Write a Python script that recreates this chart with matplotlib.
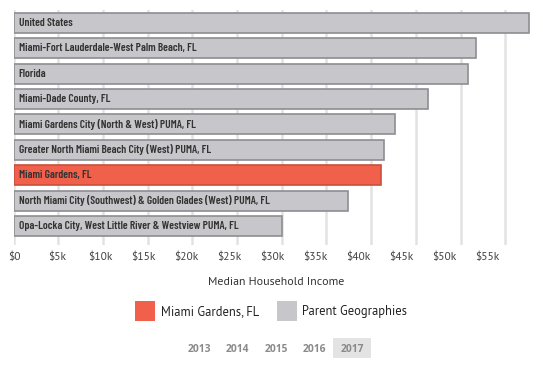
import matplotlib
matplotlib.use("Agg")
import matplotlib.pyplot as plt
from matplotlib.patches import Rectangle

# data
places = [
    "United States",
    "Miami-Fort Lauderdale-West Palm Beach, FL",
    "Florida",
    "Miami-Dade County, FL",
    "Miami Gardens City (North & West) PUMA, FL",
    "Greater North Miami Beach City (West) PUMA, FL",
    "Miami Gardens, FL",
    "North Miami City (Southwest) & Golden Glades (West) PUMA, FL",
    "Opa-Locka City, West Little River & Westview PUMA, FL",
]
income = [57650, 51700, 50850, 46400, 42700, 41400, 41100, 37400, 30000]
highlight = "Miami Gardens, FL"
tick_values = list(range(0, 60000, 5000))
tick_labels = ["$0"] + [f"${v // 1000}k" for v in tick_values[1:]]
years = ["2013", "2014", "2015", "2016", "2017"]
year_x = [199, 237, 276, 314, 352]
selected_year = "2017"

RED, RED_EDGE = "#f0604a", "#c9503c"
GRAY, GRAY_EDGE = "#c7c7cb", "#8e8e92"
W, H = 543, 366
BAR_FONT = ["Barlow Condensed", "DejaVu Sans"]
UI_FONT = ["PT Sans", "DejaVu Sans"]

fig = plt.figure(figsize=(W / 100, H / 100), dpi=100)
ax = fig.add_axes([13.5 / W, 1 - 245 / H, 523 / W, 235 / H])

for i, (name, val) in enumerate(zip(places, income)):
    red = name == highlight
    ax.barh(i, val, height=0.79, color=RED if red else GRAY,
            edgecolor=RED_EDGE if red else GRAY_EDGE, linewidth=1.2, zorder=2)
    ax.text(600, i, name, va="center", ha="left", fontsize=8.2,
            family=BAR_FONT, fontweight="semibold", color="#333333", zorder=3)

ax.set_xlim(0, 58500)
ax.set_ylim(8.75, -0.51)
ax.set_xticks(tick_values)
ax.set_xticklabels([])
ax.tick_params(length=0)
ax.set_yticks([])
ax.grid(axis="x", color="#e2e2e2", linewidth=1.8, zorder=0)
for s in ax.spines.values():
    s.set_visible(False)

# tick labels (the original's labels sit on a slightly narrower scale than its grid)
for v, lab in zip(tick_values, tick_labels):
    fig.text((14 + v / 5000 * 43.0) / W, 1 - 257 / H, lab, ha="center", va="center",
             fontsize=8.3, family=UI_FONT, color="#444444")

fig.text(276 / W, 1 - 282 / H, "Median Household Income", ha="center", va="center",
         fontsize=8.6, family=UI_FONT, color="#333333")

# legend
fig.patches.append(Rectangle((135 / W, 1 - 321 / H), 20 / W, 20 / H, transform=fig.transFigure,
                             facecolor=RED, edgecolor="none"))
fig.text(161 / W, 1 - 312 / H, "Miami Gardens, FL", ha="left", va="center",
         fontsize=9, family=UI_FONT, color="#222222")
fig.patches.append(Rectangle((277 / W, 1 - 321 / H), 20 / W, 20 / H, transform=fig.transFigure,
                             facecolor=GRAY, edgecolor="none"))
fig.text(302 / W, 1 - 312 / H, "Parent Geographies", ha="left", va="center",
         fontsize=9, family=UI_FONT, color="#222222")

# year selector
for y, x in zip(years, year_x):
    if y == selected_year:
        fig.patches.append(Rectangle((333 / W, 1 - 358 / H), 38 / W, 20 / H,
                                     transform=fig.transFigure, facecolor="#e3e3e3",
                                     edgecolor="none"))
    fig.text(x / W, 1 - 349 / H, y, ha="center", va="center", fontsize=7.4,
             fontweight="bold", family=["Open Sans", "DejaVu Sans"], color="#8a8a8a")

fig.savefig("out.png", dpi=100)
